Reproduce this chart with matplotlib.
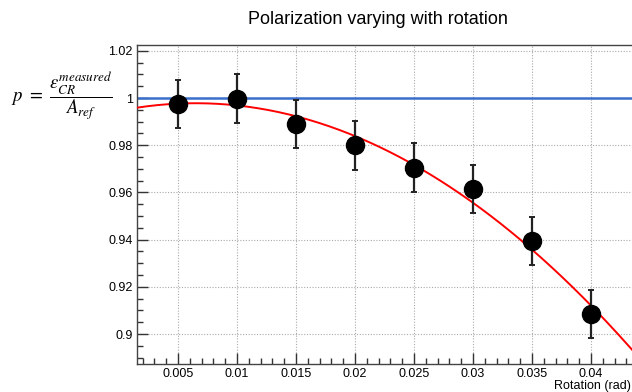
import numpy as np
import matplotlib
matplotlib.use("Agg")
import matplotlib.pyplot as plt
from matplotlib.ticker import MultipleLocator, FixedLocator

plt.rcParams['font.family'] = ['Liberation Sans', 'DejaVu Sans']
plt.rcParams['mathtext.fontset'] = 'stix'

# data
rotation = [0.005, 0.010, 0.015, 0.020, 0.025, 0.030, 0.035, 0.040]
polarization = [0.9975, 0.9998, 0.9890, 0.9800, 0.9705, 0.9615, 0.9395, 0.9085]
pol_err = [0.0103, 0.0103, 0.0103, 0.0103, 0.0103, 0.0103, 0.0103, 0.0103]
# quadratic fit parameters p0 + p1*x + p2*x^2
fit_params = [0.9946, 0.993, -76.4]
reference_level = 1.0
xtick_vals = [0.005, 0.01, 0.015, 0.02, 0.025, 0.03, 0.035, 0.04]
xtick_labels = ['0.005', '0.01', '0.015', '0.02', '0.025', '0.03', '0.035', '0.04']
ytick_vals = [0.90, 0.92, 0.94, 0.96, 0.98, 1.00, 1.02]
ytick_labels = ['0.9', '0.92', '0.94', '0.96', '0.98', '1', '1.02']

W, H = 632, 392
fig = plt.figure(figsize=(W/100, H/100), dpi=100)
left_px, right_px, top_px, bot_px = 137, 640, 45, 364
ax = fig.add_axes([left_px/W, 1 - bot_px/H, (right_px-left_px)/W, (bot_px-top_px)/H])

pxu = 11800.0
x0 = 0.005 - (178 - left_px)/pxu
x1 = x0 + (right_px - left_px)/pxu
ax.set_xlim(x0, x1)
ax.set_ylim(0.8873, 1.0225)

xs = np.linspace(x0, x1, 300)
fy = fit_params[0] + fit_params[1]*xs + fit_params[2]*xs**2
ax.plot(xs, fy, color='#ff0000', lw=1.4, zorder=3)
ax.axhline(reference_level, color='#3a6fcb', lw=1.8, zorder=2)

ax.errorbar(rotation, polarization, yerr=pol_err, fmt='o', color='black',
            ecolor='#222222', elinewidth=1.6, capsize=2, capthick=1.4,
            markersize=13, zorder=4)

ax.xaxis.set_major_locator(FixedLocator(xtick_vals))
ax.set_xticklabels(xtick_labels)
ax.xaxis.set_minor_locator(MultipleLocator(0.001))
ax.yaxis.set_major_locator(FixedLocator(ytick_vals))
ax.set_yticklabels(ytick_labels)
ax.yaxis.set_minor_locator(MultipleLocator(0.005))

ax.tick_params(which='both', direction='in', top=False, right=False, colors='#333333',
               labelcolor='black', labelsize=9, width=1)
ax.tick_params(which='major', length=8, pad=3)
ax.tick_params(which='minor', length=4.5)
ax.grid(True, which='major', linestyle=(0, (1, 1.5)), color='#aaaaaa', lw=0.8)
for s in ax.spines.values():
    s.set_color('#444444')
    s.set_linewidth(1)

fig.text(631/W, 1 - 386/H, 'Rotation (rad)', ha='right', va='center', fontsize=9)
fig.text(378/W, 1 - 20/H, 'Polarization varying with rotation', ha='center', va='center', fontsize=13)
fig.text(62/W, 1 - 96/H, r'$p\ =\ \dfrac{\varepsilon_{CR}^{measured}}{A_{ref}}$',
         ha='center', va='center', fontsize=13.5)

fig.savefig('out.png', dpi=100)
